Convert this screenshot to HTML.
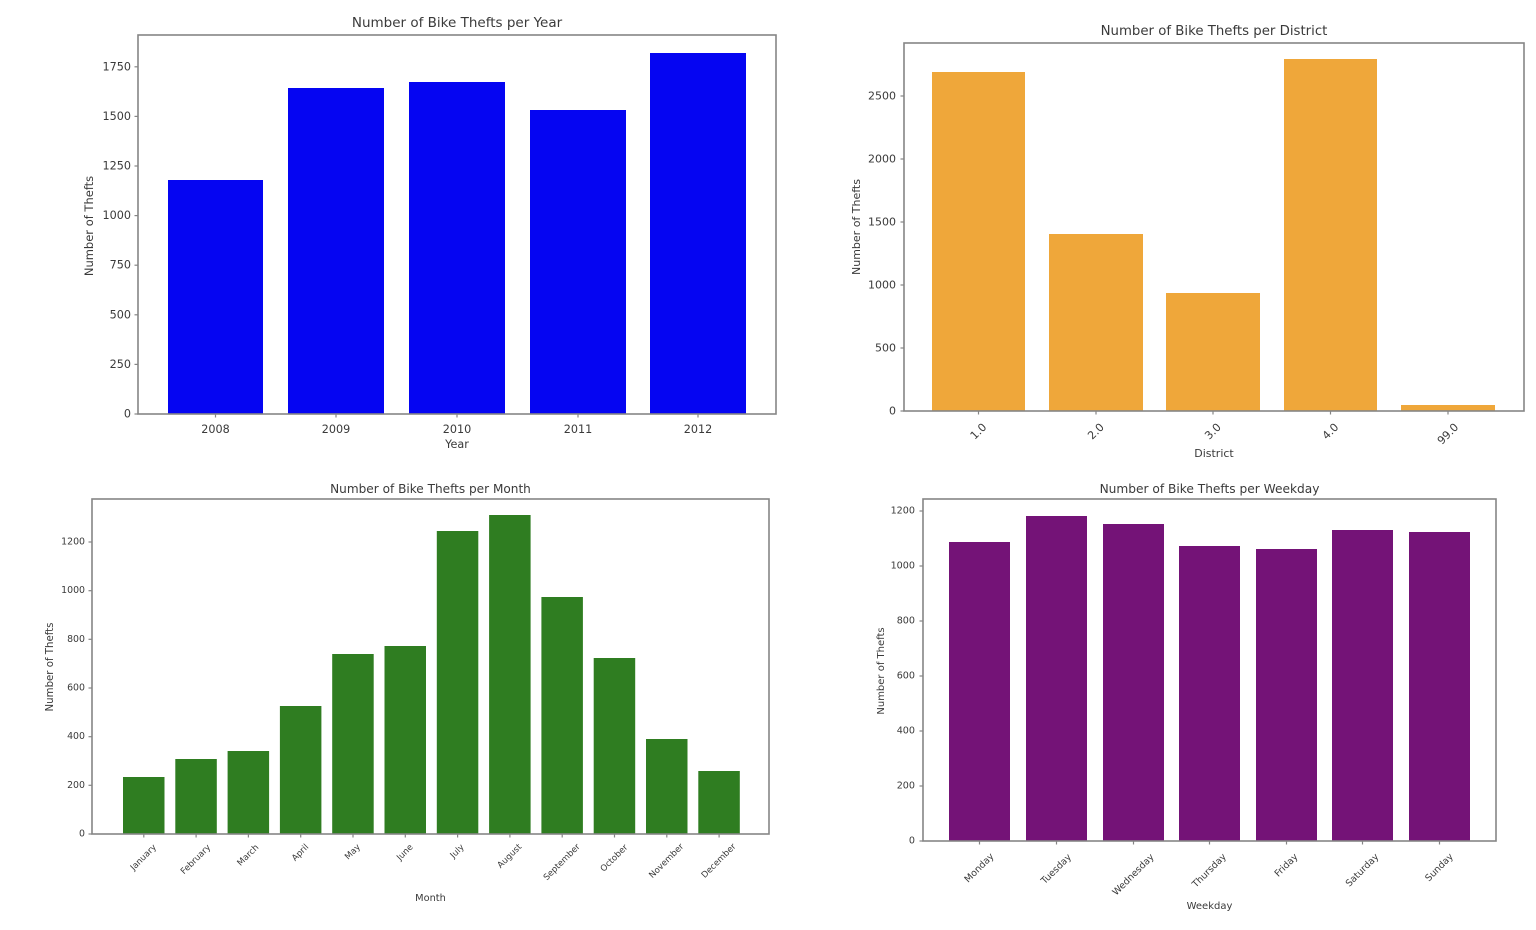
<!DOCTYPE html>
<html>
<head>
<meta charset="utf-8">
<style>
html,body{margin:0;padding:0;background:#fff;}
svg{display:block;}
text{font-family:"DejaVu Sans","Liberation Sans",sans-serif;fill:#3a3a3a;}
.sp{fill:none;stroke:#858585;stroke-width:1.6;}
.tk{stroke:#858585;stroke-width:1.2;}
</style>
</head>
<body>
<svg width="1536" height="930" viewBox="0 0 1536 930" xmlns="http://www.w3.org/2000/svg">
<rect x="0" y="0" width="1536" height="930" fill="#fff"/>

<!-- ============ TOP LEFT: per Year ============ -->
<g fill="#0505f2">
<rect x="168" y="180" width="95" height="234"/>
<rect x="288" y="88" width="96" height="326"/>
<rect x="409" y="82" width="96" height="332"/>
<rect x="530" y="110" width="96" height="304"/>
<rect x="650" y="53" width="96" height="361"/>
</g>
<rect class="sp" x="138" y="35" width="638" height="379"/>
<g class="tk">
<line x1="134.5" y1="414" x2="138" y2="414"/>
<line x1="134.5" y1="364.4" x2="138" y2="364.4"/>
<line x1="134.5" y1="314.8" x2="138" y2="314.8"/>
<line x1="134.5" y1="265.2" x2="138" y2="265.2"/>
<line x1="134.5" y1="215.6" x2="138" y2="215.6"/>
<line x1="134.5" y1="166" x2="138" y2="166"/>
<line x1="134.5" y1="116.4" x2="138" y2="116.4"/>
<line x1="134.5" y1="66.8" x2="138" y2="66.8"/>
<line x1="215.5" y1="414" x2="215.5" y2="417.5"/>
<line x1="336" y1="414" x2="336" y2="417.5"/>
<line x1="457" y1="414" x2="457" y2="417.5"/>
<line x1="578" y1="414" x2="578" y2="417.5"/>
<line x1="698" y1="414" x2="698" y2="417.5"/>
</g>
<g font-size="11.2" text-anchor="end" dominant-baseline="central">
<text x="131" y="414">0</text>
<text x="131" y="364.4">250</text>
<text x="131" y="314.8">500</text>
<text x="131" y="265.2">750</text>
<text x="131" y="215.6">1000</text>
<text x="131" y="166">1250</text>
<text x="131" y="116.4">1500</text>
<text x="131" y="66.8">1750</text>
</g>
<g font-size="11.2" text-anchor="middle">
<text x="215.5" y="433">2008</text>
<text x="336" y="433">2009</text>
<text x="457" y="433">2010</text>
<text x="578" y="433">2011</text>
<text x="698" y="433">2012</text>
<text x="457" y="448">Year</text>
</g>
<text x="457" y="27" font-size="13.5" text-anchor="middle">Number of Bike Thefts per Year</text>
<text transform="translate(93,226) rotate(-90)" font-size="11.5" text-anchor="middle">Number of Thefts</text>

<!-- ============ TOP RIGHT: per District ============ -->
<g fill="#efa73a">
<rect x="932" y="72" width="93" height="339"/>
<rect x="1049" y="234" width="94" height="177"/>
<rect x="1166" y="293" width="94" height="118"/>
<rect x="1284" y="59" width="93" height="352"/>
<rect x="1401" y="405" width="94" height="6"/>
</g>
<rect class="sp" x="904" y="43" width="620" height="368"/>
<g class="tk">
<line x1="900.5" y1="411" x2="904" y2="411"/>
<line x1="900.5" y1="348" x2="904" y2="348"/>
<line x1="900.5" y1="285" x2="904" y2="285"/>
<line x1="900.5" y1="222" x2="904" y2="222"/>
<line x1="900.5" y1="159" x2="904" y2="159"/>
<line x1="900.5" y1="96" x2="904" y2="96"/>
<line x1="978.5" y1="411" x2="978.5" y2="414.5"/>
<line x1="1096" y1="411" x2="1096" y2="414.5"/>
<line x1="1213" y1="411" x2="1213" y2="414.5"/>
<line x1="1330.5" y1="411" x2="1330.5" y2="414.5"/>
<line x1="1448" y1="411" x2="1448" y2="414.5"/>
</g>
<g font-size="11" text-anchor="end" dominant-baseline="central">
<text x="896" y="411">0</text>
<text x="896" y="348">500</text>
<text x="896" y="285">1000</text>
<text x="896" y="222">1500</text>
<text x="896" y="159">2000</text>
<text x="896" y="96">2500</text>
</g>
<g font-size="11" text-anchor="middle" dominant-baseline="central">
<text transform="translate(978.5,431.5) rotate(-45)">1.0</text>
<text transform="translate(1096,431.5) rotate(-45)">2.0</text>
<text transform="translate(1213,431.5) rotate(-45)">3.0</text>
<text transform="translate(1330.5,431.5) rotate(-45)">4.0</text>
<text transform="translate(1448,434) rotate(-45)">99.0</text>
</g>
<text x="1214" y="457" font-size="11" text-anchor="middle">District</text>
<text x="1214" y="35" font-size="13.3" text-anchor="middle">Number of Bike Thefts per District</text>
<text transform="translate(860,227) rotate(-90)" font-size="11" text-anchor="middle">Number of Thefts</text>

<!-- ============ BOTTOM LEFT: per Month ============ -->
<g fill="#2f7d21">
<rect x="123" y="777" width="41.5" height="57"/>
<rect x="175.3" y="759" width="41.5" height="75"/>
<rect x="227.6" y="751" width="41.5" height="83"/>
<rect x="279.9" y="706" width="41.5" height="128"/>
<rect x="332.2" y="654" width="41.5" height="180"/>
<rect x="384.5" y="646" width="41.5" height="188"/>
<rect x="436.8" y="531" width="41.5" height="303"/>
<rect x="489.1" y="515" width="41.5" height="319"/>
<rect x="541.4" y="597" width="41.5" height="237"/>
<rect x="593.7" y="658" width="41.5" height="176"/>
<rect x="646" y="739" width="41.5" height="95"/>
<rect x="698.3" y="771" width="41.5" height="63"/>
</g>
<rect class="sp" x="92" y="499" width="677" height="335"/>
<g class="tk">
<line x1="88.5" y1="834" x2="92" y2="834"/>
<line x1="88.5" y1="785.3" x2="92" y2="785.3"/>
<line x1="88.5" y1="736.7" x2="92" y2="736.7"/>
<line x1="88.5" y1="688" x2="92" y2="688"/>
<line x1="88.5" y1="639.3" x2="92" y2="639.3"/>
<line x1="88.5" y1="590.7" x2="92" y2="590.7"/>
<line x1="88.5" y1="542" x2="92" y2="542"/>
<line x1="143.8" y1="834" x2="143.8" y2="837.5"/>
<line x1="196.1" y1="834" x2="196.1" y2="837.5"/>
<line x1="248.4" y1="834" x2="248.4" y2="837.5"/>
<line x1="300.7" y1="834" x2="300.7" y2="837.5"/>
<line x1="353" y1="834" x2="353" y2="837.5"/>
<line x1="405.3" y1="834" x2="405.3" y2="837.5"/>
<line x1="457.6" y1="834" x2="457.6" y2="837.5"/>
<line x1="509.9" y1="834" x2="509.9" y2="837.5"/>
<line x1="562.2" y1="834" x2="562.2" y2="837.5"/>
<line x1="614.5" y1="834" x2="614.5" y2="837.5"/>
<line x1="666.8" y1="834" x2="666.8" y2="837.5"/>
<line x1="719.1" y1="834" x2="719.1" y2="837.5"/>
</g>
<g font-size="9.4" text-anchor="end" dominant-baseline="central">
<text x="85" y="834">0</text>
<text x="85" y="785.3">200</text>
<text x="85" y="736.7">400</text>
<text x="85" y="688">600</text>
<text x="85" y="639.3">800</text>
<text x="85" y="590.7">1000</text>
<text x="85" y="542">1200</text>
</g>
<g font-size="8.6" text-anchor="middle" dominant-baseline="central">
<text transform="translate(143.8,857.8) rotate(-45)">January</text>
<text transform="translate(196.1,859.8) rotate(-45)">February</text>
<text transform="translate(248.4,855.6) rotate(-45)">March</text>
<text transform="translate(300.7,853.0) rotate(-45)">April</text>
<text transform="translate(353,852.3) rotate(-45)">May</text>
<text transform="translate(405.3,852.7) rotate(-45)">June</text>
<text transform="translate(457.6,851.6) rotate(-45)">July</text>
<text transform="translate(509.9,856.5) rotate(-45)">August</text>
<text transform="translate(562.2,862.5) rotate(-45)">September</text>
<text transform="translate(614.5,858.5) rotate(-45)">October</text>
<text transform="translate(666.8,861.3) rotate(-45)">November</text>
<text transform="translate(719.1,861.2) rotate(-45)">December</text>
</g>
<text x="430.5" y="901" font-size="9.8" text-anchor="middle">Month</text>
<text x="430.5" y="493" font-size="12.1" text-anchor="middle">Number of Bike Thefts per Month</text>
<text transform="translate(53,667) rotate(-90)" font-size="10.2" text-anchor="middle">Number of Thefts</text>

<!-- ============ BOTTOM RIGHT: per Weekday ============ -->
<g fill="#741377">
<rect x="949" y="542" width="61" height="299"/>
<rect x="1026" y="516" width="61" height="325"/>
<rect x="1103" y="524" width="61" height="317"/>
<rect x="1179" y="546" width="61" height="295"/>
<rect x="1256" y="549" width="61" height="292"/>
<rect x="1332" y="530" width="61" height="311"/>
<rect x="1409" y="532" width="61" height="309"/>
</g>
<rect class="sp" x="923" y="499" width="573" height="342"/>
<g class="tk">
<line x1="919.5" y1="841" x2="923" y2="841"/>
<line x1="919.5" y1="786" x2="923" y2="786"/>
<line x1="919.5" y1="731" x2="923" y2="731"/>
<line x1="919.5" y1="676" x2="923" y2="676"/>
<line x1="919.5" y1="621" x2="923" y2="621"/>
<line x1="919.5" y1="566" x2="923" y2="566"/>
<line x1="919.5" y1="511" x2="923" y2="511"/>
<line x1="979.5" y1="841" x2="979.5" y2="844.5"/>
<line x1="1056.5" y1="841" x2="1056.5" y2="844.5"/>
<line x1="1133.5" y1="841" x2="1133.5" y2="844.5"/>
<line x1="1209.5" y1="841" x2="1209.5" y2="844.5"/>
<line x1="1286.5" y1="841" x2="1286.5" y2="844.5"/>
<line x1="1362.5" y1="841" x2="1362.5" y2="844.5"/>
<line x1="1439.5" y1="841" x2="1439.5" y2="844.5"/>
</g>
<g font-size="9.6" text-anchor="end" dominant-baseline="central">
<text x="915" y="841">0</text>
<text x="915" y="786">200</text>
<text x="915" y="731">400</text>
<text x="915" y="676">600</text>
<text x="915" y="621">800</text>
<text x="915" y="566">1000</text>
<text x="915" y="511">1200</text>
</g>
<g font-size="9.4" text-anchor="middle" dominant-baseline="central">
<text transform="translate(979.5,868.1) rotate(-45)">Monday</text>
<text transform="translate(1056.5,869.3) rotate(-45)">Tuesday</text>
<text transform="translate(1133.5,874.9) rotate(-45)">Wednesday</text>
<text transform="translate(1209.5,870.8) rotate(-45)">Thursday</text>
<text transform="translate(1286.5,865.5) rotate(-45)">Friday</text>
<text transform="translate(1362.5,870.4) rotate(-45)">Saturday</text>
<text transform="translate(1439.5,867.7) rotate(-45)">Sunday</text>
</g>
<text x="1209.5" y="909" font-size="10" text-anchor="middle">Weekday</text>
<text x="1209.5" y="493" font-size="12.2" text-anchor="middle">Number of Bike Thefts per Weekday</text>
<text transform="translate(884,671) rotate(-90)" font-size="10" text-anchor="middle">Number of Thefts</text>
</svg>
</body>
</html>
